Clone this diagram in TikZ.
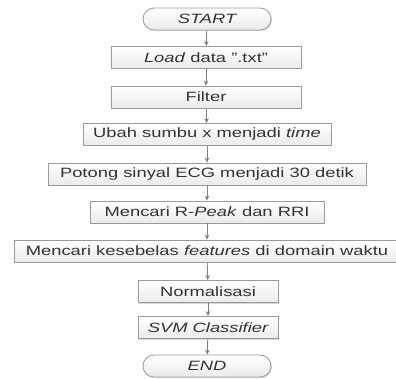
\documentclass[tikz,border=0pt]{standalone}
\usepackage{fontspec}
\setmainfont{Liberation Sans}[FakeStretch=1.36]
\usetikzlibrary{arrows.meta,shadows}
\definecolor{boxline}{HTML}{9A9A9A}
\definecolor{arrowc}{HTML}{7F7F7F}
\definecolor{txt}{HTML}{333333}
\begin{document}
\begin{tikzpicture}[x=1pt,y=-1pt,
  proc/.style={draw=boxline, line width=0.8pt, top color=white, bottom color=black!8,
    minimum height=22pt, inner sep=0pt, text=txt, font=\fontsize{13.5}{16}\selectfont,
    drop shadow={shadow xshift=1pt,shadow yshift=-1pt,fill=black!30,opacity=0.5}},
  term/.style={proc, rounded corners=11pt},
  flow/.style={draw=arrowc, line width=0.8pt, -{Stealth[length=5pt,width=4.5pt]}}
]
\useasboundingbox (0,0) rectangle (396,379);
\clip (0,0) rectangle (396,379);
\node[term, minimum width=128pt] (start) at (207,19) {\itshape START};
\node[proc, minimum width=190pt] (load) at (206,57.5) {\textit{Load} data ".txt"};
\node[proc, minimum width=190pt] (filter) at (206,97) {Filter};
\node[proc, minimum width=248pt] (ubah) at (207,134.5) {Ubah sumbu x menjadi \textit{time}};
\node[proc, minimum width=318pt] (potong) at (207,174) {Potong sinyal ECG menjadi 30 detik};
\node[proc, minimum width=234pt] (peak) at (207,212) {Mencari R-\textit{Peak} dan RRI};
\node[proc, minimum width=386pt] (fitur) at (207,251) {Mencari kesebelas \textit{features} di domain waktu};
\node[proc, minimum width=140pt] (norm) at (208,291.5) {Normalisasi};
\node[proc, minimum width=140pt] (svm) at (208,327.5) {\itshape SVM Classifier};
\node[term, minimum width=128pt] (end) at (207,366) {\itshape END};
\draw[flow] (start) -- (load);
\draw[flow] (load) -- (filter);
\draw[flow] (filter) -- (ubah);
\draw[flow] (ubah) -- (potong);
\draw[flow] (potong) -- (peak);
\draw[flow] (peak) -- (fitur);
\draw[flow] (fitur) -- (norm);
\draw[flow] (norm) -- (svm);
\draw[flow] (svm) -- (end);
\end{tikzpicture}
\end{document}
